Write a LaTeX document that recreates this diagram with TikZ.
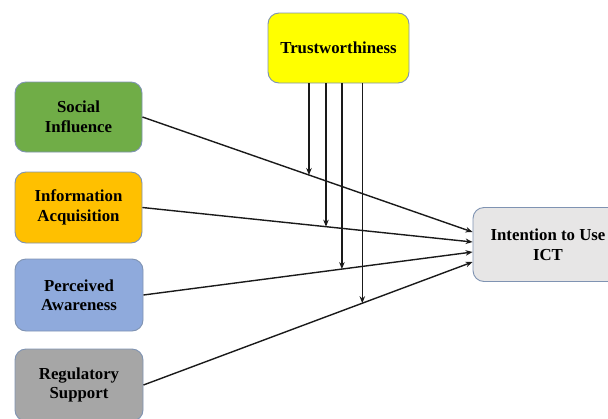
\documentclass[tikz,border=0pt]{standalone}
\usepackage{fontspec}
\setmainfont{Liberation Serif}
\usetikzlibrary{calc,arrows.meta}
\definecolor{edgeblue}{HTML}{7F93B2}
\definecolor{cgreen}{HTML}{70AD47}
\definecolor{corange}{HTML}{FFC000}
\definecolor{cblue}{HTML}{8FAADC}
\definecolor{cgrey}{HTML}{A6A6A6}
\definecolor{cyellow}{HTML}{FFFF00}
\definecolor{clight}{HTML}{E7E6E6}
\definecolor{lineblk}{HTML}{1A1A1A}
\tikzset{
  factor/.style={draw=edgeblue, line width=0.9pt, rounded corners=11pt, align=center,
    font=\fontsize{16.8}{19.5}\selectfont\bfseries, inner sep=0pt},
  link/.style={draw=lineblk, line width=1.4pt, -{Stealth[length=7pt,width=5.5pt]}}
}
\begin{document}
\begin{tikzpicture}[x=1pt,y=-1pt]
\useasboundingbox (0,0) rectangle (608,418);
\begin{scope}
\clip (0,0) rectangle (608,418);
\node[factor, fill=cyellow, minimum width=141pt, minimum height=70pt] (tw) at (338.5,48) {Trustworthiness};
\node[factor, fill=cgreen, minimum width=127pt, minimum height=70pt] (si) at (78.5,117) {Social\\Influence};
\node[factor, fill=corange, minimum width=127pt, minimum height=71pt] (ia) at (78.5,207.5) {Information\\Acquisition};
\node[factor, fill=cblue, minimum width=128pt, minimum height=72pt] (pa) at (79,295) {Perceived\\Awareness};
\node[factor, fill=cgrey, minimum width=128pt, minimum height=72pt] (rs) at (79,385) {Regulatory\\Support};
\node[factor, fill=clight, minimum width=150pt, minimum height=74pt] (it) at (548,244.5) {Intention to Use\\ICT};

\coordinate (t1) at ($(it.west)+(0,-12.5)$);
\coordinate (t2) at ($(it.west)+(0,-2.5)$);
\coordinate (t3) at ($(it.west)+(0,7.5)$);
\coordinate (t4) at ($(it.west)+(0,17.5)$);

\draw[link] (si.east) -- (t1) coordinate[pos=0.5045] (m1);
\draw[link] (ia.east) -- (t2) coordinate[pos=0.556] (m2);
\draw[link] (pa.east) -- (t3) coordinate[pos=0.603] (m3);
\draw[link] (rs.east) -- (t4) coordinate[pos=0.665] (m4);

\draw[link] (tw.south -| m1) -- (m1);
\draw[link] (tw.south -| m2) -- (m2);
\draw[link] (tw.south -| m3) -- (m3);
\draw[link] (tw.south -| m4) -- (m4);
\end{scope}
\end{tikzpicture}
\end{document}
